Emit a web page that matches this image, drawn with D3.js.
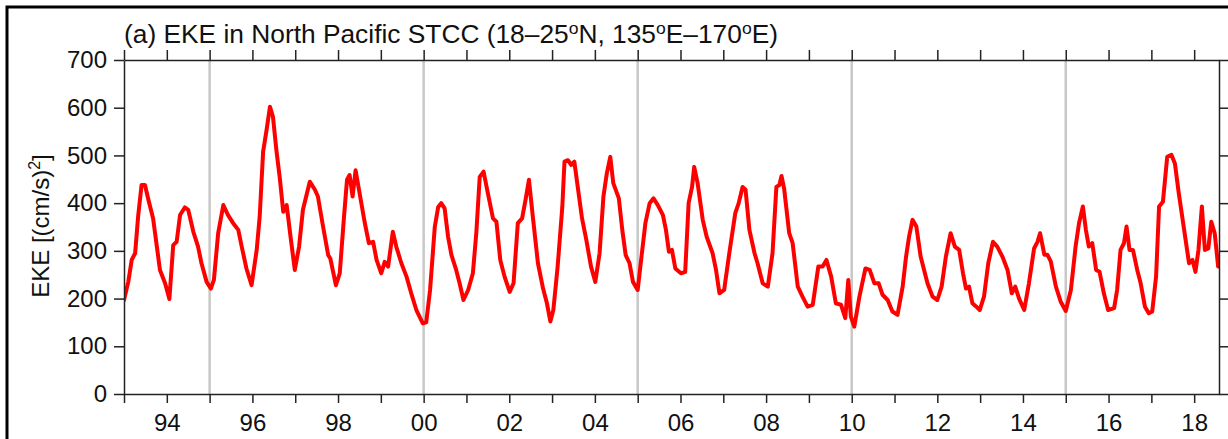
<!DOCTYPE html>
<html>
<head>
<meta charset="utf-8">
<script src="https://cdn.jsdelivr.net/npm/d3@7/dist/d3.min.js"></script>
<style>
  html, body { margin: 0; padding: 0; background: #fff; }
  svg { display: block; }
  text { font-family: "Liberation Sans", Arial, Helvetica, sans-serif; fill: #111; }
</style>
</head>
<body>
<svg id="chart" width="1228" height="439"></svg>
<script>
// ---- data (decimal year, EKE in (cm/s)^2) ----
const time = [
  1993.00,1993.10,1993.18,1993.26,1993.33,1993.41,1993.49,1993.57,1993.68,1993.84,1993.96,
  1994.06,1994.15,1994.23,1994.31,1994.42,1994.50,1994.62,1994.73,1994.81,1994.93,
  1995.03,1995.10,1995.20,1995.32,1995.43,1995.55,1995.67,1995.75,1995.86,1995.98,
  1996.10,1996.17,1996.25,1996.33,1996.41,1996.48,1996.56,1996.64,1996.72,1996.80,1996.89,1996.99,
  1997.09,1997.18,1997.34,1997.46,1997.53,1997.65,1997.77,1997.82,1997.95,
  1998.04,1998.14,1998.21,1998.27,1998.34,1998.41,1998.49,1998.62,1998.72,1998.82,1998.90,
  1999.01,1999.09,1999.17,1999.28,1999.36,1999.48,1999.60,1999.71,1999.83,1999.98,
  2000.06,2000.15,2000.26,2000.34,2000.41,2000.49,2000.57,2000.65,2000.76,2000.84,2000.93,
  2001.04,2001.15,2001.23,2001.31,2001.40,2001.50,2001.62,2001.70,2001.79,2001.89,
  2002.01,2002.10,2002.20,2002.30,2002.38,2002.46,2002.55,2002.67,2002.79,2002.88,2002.96,
  2003.03,2003.13,2003.24,2003.29,2003.37,2003.45,2003.52,2003.60,2003.70,2003.80,2003.91,
  2004.01,2004.11,2004.20,2004.28,2004.36,2004.43,2004.56,2004.64,2004.72,2004.81,2004.89,
  2005.00,2005.08,2005.18,2005.28,2005.37,2005.47,2005.59,2005.66,2005.73,2005.80,2005.88,
  2006.01,2006.11,2006.19,2006.27,2006.32,2006.40,2006.52,2006.61,2006.75,2006.83,2006.91,
  2007.02,2007.14,2007.28,2007.36,2007.45,2007.52,2007.61,2007.73,2007.80,2007.92,
  2008.04,2008.15,2008.24,2008.31,2008.36,2008.42,2008.54,2008.62,2008.74,2008.85,2008.97,
  2009.09,2009.22,2009.32,2009.41,2009.52,2009.63,2009.75,2009.85,2009.92,2009.98,
  2010.06,2010.18,2010.32,2010.42,2010.53,2010.63,2010.72,2010.84,2010.95,
  2011.07,2011.19,2011.27,2011.34,2011.42,2011.51,2011.61,2011.77,2011.89,
  2012.00,2012.10,2012.20,2012.31,2012.41,2012.51,2012.60,2012.67,2012.74,2012.82,2012.91,2012.99,
  2013.09,2013.19,2013.30,2013.40,2013.52,2013.64,2013.74,2013.82,2013.91,
  2014.03,2014.14,2014.26,2014.34,2014.40,2014.50,2014.57,2014.65,2014.77,2014.88,
  2015.00,2015.12,2015.23,2015.31,2015.40,2015.47,2015.54,2015.62,2015.71,2015.79,2015.89,2015.99,
  2016.13,2016.20,2016.28,2016.36,2016.42,2016.49,2016.57,2016.67,2016.75,2016.85,2016.94,
  2017.02,2017.11,2017.18,2017.27,2017.37,2017.47,2017.55,2017.64,2017.72,2017.80,2017.88,2017.96,
  2018.03,2018.10,2018.18,2018.25,2018.33,2018.40,2018.48,2018.56
];
const eke = [
  197,235,281,295,372,438,438,407,368,260,232,
  199,312,319,375,391,386,340,309,274,235,
  221,239,337,396,375,358,344,309,263,228,
  302,372,508,553,602,581,511,452,382,396,330,260,
  309,386,445,428,414,351,291,284,228,
  253,372,449,459,414,469,428,361,316,319,281,
  253,277,267,340,309,274,246,211,176,148,
  150,218,350,392,400,389,330,291,260,232,197,
  218,253,337,455,466,421,368,361,281,246,
  214,232,358,368,407,449,372,274,221,190,152,
  176,267,393,487,490,480,487,434,368,323,267,
  235,295,414,463,497,442,410,344,291,274,235,
  218,281,358,400,410,396,375,344,298,302,263,
  253,256,400,434,476,442,365,330,295,260,211,
  218,295,379,400,434,428,344,295,274,232,
  225,295,434,438,457,431,337,316,225,204,183,
  187,267,267,281,246,190,187,159,239,162,
  141,204,263,260,232,232,208,197,173,
  166,225,288,330,365,351,288,232,204,
  197,225,288,337,309,302,253,221,225,190,183,176,
  204,274,319,309,288,260,211,225,200,
  176,232,305,319,337,292,292,278,225,194,
  174,218,309,358,393,344,309,316,260,256,211,176,
  180,218,302,316,351,302,302,260,232,183,169,
  173,246,393,403,497,501,483,421,372,323,274,281,
  256,302,393,302,305,361,337,267
];
const xTickYears = d3.range(1993, 2019);          // yearly ticks
const xLabelYears = d3.range(1994, 2019, 2);      // labelled ticks
const refYears = [1995, 2000, 2005, 2010, 2015];  // grey reference lines
const yTicks = [0, 100, 200, 300, 400, 500, 600, 700];
const xDomain = [1993.0, 2018.58];
const yDomain = [0, 700];

// ---- layout ----
const svg = d3.select("#chart");
const L = 124, R = 1219, T = 60, B = 394;
const x = d3.scaleLinear().domain(xDomain).range([L, R]);
const y = d3.scaleLinear().domain(yDomain).range([B, T]);

// outer frame of the figure
svg.append("path")
  .attr("d", "M7,445 V7 H1240")
  .attr("fill", "none").attr("stroke", "#000").attr("stroke-width", 3);

// grey reference lines
svg.append("g").selectAll("line").data(refYears).join("line")
  .attr("x1", d => x(d)).attr("x2", d => x(d))
  .attr("y1", T).attr("y2", B)
  .attr("stroke", "#c8c8c8").attr("stroke-width", 2.5);

// clip for data line
svg.append("clipPath").attr("id", "clip")
  .append("rect").attr("x", L).attr("y", T).attr("width", R - L).attr("height", B - T);

const data = time.map((t, i) => ({ t, v: eke[i] }));
svg.append("path")
  .datum(data)
  .attr("clip-path", "url(#clip)")
  .attr("fill", "none")
  .attr("stroke", "#ff0000")
  .attr("stroke-width", 4)
  .attr("stroke-linejoin", "round")
  .attr("stroke-linecap", "round")
  .attr("d", d3.line().x(d => x(d.t)).y(d => y(d.v)));

// axes
const fmtYear = d => xLabelYears.includes(d) ? String(d % 100).padStart(2, "0") : "";
const axBottom = d3.axisBottom(x).tickValues(xTickYears).tickFormat(fmtYear).tickSize(9).tickSizeOuter(0).tickPadding(11);
const axTop = d3.axisTop(x).tickValues(xTickYears).tickFormat("").tickSize(10).tickSizeOuter(0);
const axLeft = d3.axisLeft(y).tickValues(yTicks).tickSize(10).tickSizeOuter(0).tickPadding(7);
const axRight = d3.axisRight(y).tickValues(yTicks).tickFormat("").tickSize(9).tickSizeOuter(0);

function style(g) {
  g.select(".domain").attr("stroke", "#222").attr("stroke-width", 1.5);
  g.selectAll(".tick line").attr("stroke", "#222").attr("stroke-width", 1.5);
  g.selectAll(".tick text").attr("font-size", 24).attr("fill", "#111")
    .attr("font-family", "'Liberation Sans', Arial, Helvetica, sans-serif");
}
svg.append("g").attr("transform", `translate(0,${B})`).call(axBottom).call(style);
svg.append("g").attr("transform", `translate(0,${T})`).call(axTop).call(style);
svg.append("g").attr("transform", `translate(${L},0)`).call(axLeft).call(style);
svg.append("g").attr("transform", `translate(${R},0)`).call(axRight).call(style);

// title
const title = svg.append("text").attr("x", 124).attr("y", 43).attr("font-size", 25.5)
  .attr("textLength", 654).attr("lengthAdjust", "spacingAndGlyphs");
const parts = [["(a) EKE in North Pacific STCC (18\u201325", false], ["o", true], ["N, 135", false], ["o", true], ["E\u2013170", false], ["o", true], ["E)", false]];
parts.forEach(([s, sup]) => {
  const ts = title.append("tspan").text(s);
  if (sup) ts.attr("font-size", 17).attr("baseline-shift", "55%");
});

// y axis label
const yl = svg.append("text")
  .attr("transform", "translate(49,226) rotate(-90)")
  .attr("text-anchor", "middle")
  .attr("font-size", 24);
yl.append("tspan").text("EKE [(cm/s)");
yl.append("tspan").text("2").attr("font-size", 16).attr("baseline-shift", "55%");
yl.append("tspan").text("]");
</script>
</body>
</html>
